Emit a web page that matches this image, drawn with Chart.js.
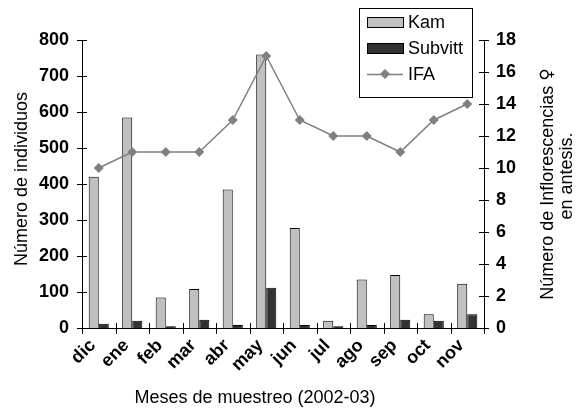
<!DOCTYPE html>
<html>
<head>
<meta charset="utf-8">
<script src="https://cdn.jsdelivr.net/npm/chart.js@4/dist/chart.umd.min.js"></script>
<style>
  html, body { margin: 0; padding: 0; background: #fff; }
  #wrap { width: 578px; height: 411px; }
</style>
</head>
<body>
<div id="wrap"><canvas id="chart"></canvas></div>
<script>
// data
var months = ['dic', 'ene', 'feb', 'mar', 'abr', 'may', 'jun', 'jul', 'ago', 'sep', 'oct', 'nov'];
var kam = [420, 585, 85, 108, 385, 760, 278, 20, 135, 147, 38, 123];
var subvitt = [12, 20, 5, 23, 8, 112, 8, 5, 8, 23, 20, 38];
var ifa = [10, 11, 11, 11, 13, 17, 13, 12, 12, 11, 13, 14];
var leftTicks = [0, 100, 200, 300, 400, 500, 600, 700, 800];
var rightTicks = [0, 2, 4, 6, 8, 10, 12, 14, 16, 18];

var FONT = '"Liberation Sans", Arial, sans-serif';

// tick marks that cross the axis lines, like the original
var crossTicks = {
    id: 'crossTicks',
    afterDraw: function (chart) {
        var ctx = chart.ctx;
        var x = chart.scales.x, y = chart.scales.y, y1 = chart.scales.y1;
        ctx.save();
        ctx.strokeStyle = '#000';
        ctx.lineWidth = 1;
        ctx.beginPath();
        leftTicks.forEach(function (v) {
            var p = Math.round(y.getPixelForValue(v)) + 0.5;
            ctx.moveTo(y.right - 5, p); ctx.lineTo(y.right + 5, p);
        });
        rightTicks.forEach(function (v) {
            var p = Math.round(y1.getPixelForValue(v)) + 0.5;
            ctx.moveTo(y1.left - 5, p); ctx.lineTo(y1.left + 5, p);
        });
        var w = (x.right - x.left) / months.length;
        for (var i = 0; i <= months.length; i++) {
            var px = Math.round(x.left + i * w) + 0.5;
            ctx.moveTo(px, x.top - 5); ctx.lineTo(px, x.top + 6);
        }
        ctx.stroke();
        ctx.restore();
    }
};

// axis titles placed as in the original (right one reads bottom-to-top)
var axisTitles = {
    id: 'axisTitles',
    afterDraw: function (chart) {
        var ctx = chart.ctx;
        var a = chart.chartArea;
        var cy = (a.top + a.bottom) / 2;
        ctx.save();
        ctx.fillStyle = '#000';
        ctx.font = '18px ' + FONT;
        ctx.textBaseline = 'middle';
        ctx.textAlign = 'center';
        ctx.fillText('Meses de muestreo (2002-03)', 255, 398);

        ctx.save();
        ctx.translate(22, cy - 5);
        ctx.rotate(-Math.PI / 2);
        ctx.fillText('Número de individuos', 0, 0);
        ctx.restore();

        var main = 'Número de Inflorescencias ';
        ctx.translate(548, cy);
        ctx.rotate(-Math.PI / 2);
        var w1 = ctx.measureText(main).width;
        ctx.font = '17px "DejaVu Sans"';
        var w2 = ctx.measureText('♀').width;
        var start = -(w1 + w2) / 2;
        ctx.textAlign = 'left';
        ctx.font = '18px ' + FONT;
        ctx.fillText(main, start, 0);
        ctx.font = '17px "DejaVu Sans"';
        ctx.fillText('♀', start + w1, 0);
        ctx.font = '18px ' + FONT;
        ctx.textAlign = 'center';
        ctx.fillText('en antesis.', 8, 19);
        ctx.restore();
    }
};

// boxed legend inside the upper right of the plot
var boxLegend = {
    id: 'boxLegend',
    afterDraw: function (chart) {
        var ctx = chart.ctx;
        var ds = chart.data.datasets;
        var bx = 359, by = 8, bw = 113, bh = 89;
        ctx.save();
        ctx.fillStyle = '#fff';
        ctx.fillRect(bx, by, bw, bh);
        ctx.strokeStyle = '#000';
        ctx.lineWidth = 1;
        ctx.strokeRect(bx + 0.5, by + 0.5, bw, bh);
        ctx.font = '18px ' + FONT;
        ctx.textBaseline = 'middle';
        for (var i = 0; i < ds.length; i++) {
            var cy = by + 14 + i * 26;
            if (ds[i].type === 'line') {
                ctx.strokeStyle = ds[i].borderColor;
                ctx.lineWidth = 1.5;
                ctx.beginPath();
                ctx.moveTo(bx + 8, cy + 0.5); ctx.lineTo(bx + 44, cy + 0.5);
                ctx.stroke();
                ctx.fillStyle = ds[i].pointBackgroundColor;
                ctx.beginPath();
                ctx.moveTo(bx + 26, cy - 5); ctx.lineTo(bx + 31, cy);
                ctx.lineTo(bx + 26, cy + 5); ctx.lineTo(bx + 21, cy);
                ctx.closePath();
                ctx.fill();
            } else {
                ctx.fillStyle = ds[i].backgroundColor;
                ctx.fillRect(bx + 8, cy - 5, 36, 10);
                ctx.strokeStyle = '#000';
                ctx.lineWidth = 1;
                ctx.strokeRect(bx + 8.5, cy - 4.5, 36, 10);
            }
            ctx.fillStyle = '#000';
            ctx.fillText(ds[i].label, bx + 49, cy + 1);
        }
        ctx.restore();
    }
};

var ctx = document.getElementById('chart').getContext('2d');
var myChart = new Chart(ctx, {
    data: {
        labels: months,
        datasets: [{
            type: 'bar',
            label: 'Kam',
            data: kam,
            backgroundColor: '#c0c0c0',
            borderColor: '#000',
            borderWidth: 1,
            yAxisID: 'y',
            order: 2
        }, {
            type: 'bar',
            label: 'Subvitt',
            data: subvitt,
            backgroundColor: '#333333',
            borderColor: '#000',
            borderWidth: 1,
            yAxisID: 'y',
            order: 2
        }, {
            type: 'line',
            label: 'IFA',
            data: ifa,
            borderColor: '#808080',
            borderWidth: 1.5,
            pointStyle: 'rectRot',
            pointRadius: 5,
            pointBackgroundColor: '#808080',
            pointBorderColor: '#808080',
            pointBorderWidth: 0,
            yAxisID: 'y1',
            order: 1
        }]
    },
    options: {
        responsive: true,
        maintainAspectRatio: false,
        animation: false,
        layout: { padding: { top: 40, left: 0, right: 0, bottom: 0 } },
        datasets: { bar: { categoryPercentage: 0.6, barPercentage: 1.0 } },
        plugins: {
            legend: { display: false },
            tooltip: { enabled: false }
        },
        scales: {
            x: {
                grid: { display: false, drawTicks: false },
                border: { display: true, color: '#000', width: 1 },
                ticks: {
                    color: '#000',
                    font: { family: FONT, size: 18, weight: 'bold' },
                    maxRotation: 45,
                    minRotation: 45,
                    autoSkip: false,
                    labelOffset: -6,
                    padding: 7
                },
                afterFit: function (s) { s.height = 83; }
            },
            y: {
                position: 'left',
                min: 0,
                max: 800,
                grid: { display: false, drawTicks: false },
                border: { display: true, color: '#000', width: 1 },
                afterBuildTicks: function (s) { s.ticks = leftTicks.map(function (v) { return { value: v }; }); },
                ticks: {
                    color: '#000',
                    font: { family: FONT, size: 18, weight: 'bold' },
                    padding: 13
                },
                afterFit: function (s) { s.width = 82; }
            },
            y1: {
                position: 'right',
                min: 0,
                max: 18,
                grid: { display: false, drawTicks: false },
                border: { display: true, color: '#000', width: 1 },
                afterBuildTicks: function (s) { s.ticks = rightTicks.map(function (v) { return { value: v }; }); },
                ticks: {
                    color: '#000',
                    font: { family: FONT, size: 18, weight: 'bold' },
                    padding: 12
                },
                afterFit: function (s) { s.width = 94; }
            }
        }
    },
    plugins: [crossTicks, axisTitles, boxLegend]
});
</script>
</body>
</html>
